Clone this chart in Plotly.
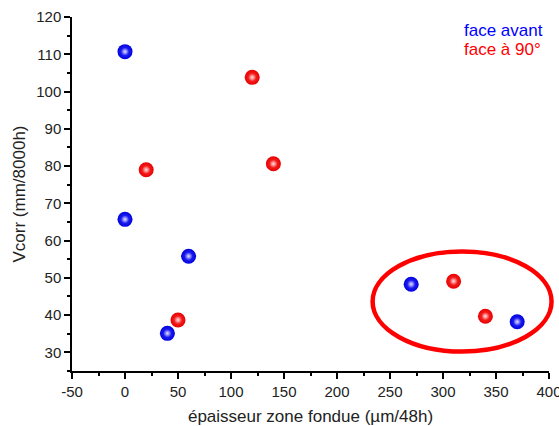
import plotly.graph_objects as go

# data
avant_x = [0, 0, 60, 40, 270, 370]
avant_y = [110.7, 65.7, 55.8, 35.1, 48.3, 38.2]
p90_x = [120, 140, 20, 50, 310, 340]
p90_y = [103.8, 80.6, 79.0, 38.7, 49.1, 39.7]

x_range = [-50, 400]
y_range = [25, 120]
x_tick_vals = [-50, 0, 50, 100, 150, 200, 250, 300, 350, 400]
x_tick_text = ["-50", "0", "50", "100", "150", "200", "250", "300", "350", "400"]

# ellipse (data units)
ell_x = [233.6, 402.4]
ell_y = [30.2, 57.1]

font = "Liberation Sans, Arial, sans-serif"

fig = go.Figure()
for xs, ys, body, edge, name in [
    (avant_x, avant_y, "#3a3aff", "#0000e0", "face avant"),
    (p90_x, p90_y, "#ff3a3a", "#e80000", "face à 90°"),
]:
    fig.add_trace(go.Scatter(
        x=xs, y=ys, mode="markers", name=name,
        marker=dict(size=15, color=edge, line=dict(width=0),
                    gradient=dict(type="radial", color=body)),
    ))
    fig.add_trace(go.Scatter(
        x=xs, y=ys, mode="markers", name=name, showlegend=False,
        marker=dict(size=8, color="rgba(255,255,255,0)", line=dict(width=0),
                    gradient=dict(type="radial", color="rgba(255,255,255,0.85)")),
    ))

def px(v):
    return (v - x_range[0]) / (x_range[1] - x_range[0])

def py(v):
    return (v - y_range[0]) / (y_range[1] - y_range[0])

fig.add_shape(type="circle", xref="paper", yref="paper",
              x0=px(ell_x[0]), x1=px(ell_x[1]), y0=py(ell_y[0]), y1=py(ell_y[1]),
              line=dict(color="#ff0000", width=4.5))

fig.add_annotation(text="face avant", xref="paper", yref="paper", x=0.8177, y=0.963,
                   xanchor="left", yanchor="middle", showarrow=False,
                   font=dict(family=font, size=17, color="#0000ff"))
fig.add_annotation(text="face à 90°", xref="paper", yref="paper", x=0.8177, y=0.907,
                   xanchor="left", yanchor="middle", showarrow=False,
                   font=dict(family=font, size=17, color="#ff0000"))

axis_common = dict(showgrid=False, zeroline=False, showline=True, linecolor="black",
                   linewidth=1.5, ticks="outside", ticklen=6, tickwidth=1.5,
                   tickcolor="black", mirror=False, automargin=False,
                   ticklabeloverflow="allow",
                   tickfont=dict(family=font, size=15, color="#222"))

fig.update_xaxes(range=x_range, tickmode="array", tickvals=x_tick_vals, ticktext=x_tick_text,
                 minor=dict(ticks="outside", ticklen=3, tickwidth=1.5, tickcolor="black", dtick=25, tick0=0),
                 title=dict(text="épaisseur zone fondue (µm/48h)", standoff=14,
                            font=dict(family=font, size=17, color="#222")),
                 **axis_common)
fig.update_yaxes(range=y_range, dtick=10, tick0=0,
                 minor=dict(ticks="outside", ticklen=3, tickwidth=1.5, tickcolor="black", dtick=5),
                 title=dict(text="Vcorr (mm/8000h)", standoff=6,
                            font=dict(family=font, size=17, color="#222")),
                 **axis_common)

fig.update_layout(width=559, height=426, margin=dict(l=72, r=10, t=17, b=55),
                  plot_bgcolor="white", paper_bgcolor="white", showlegend=False)

fig.write_html("out.html", config={"displayModeBar": False},
               post_script="document.body.style.margin='0';")
